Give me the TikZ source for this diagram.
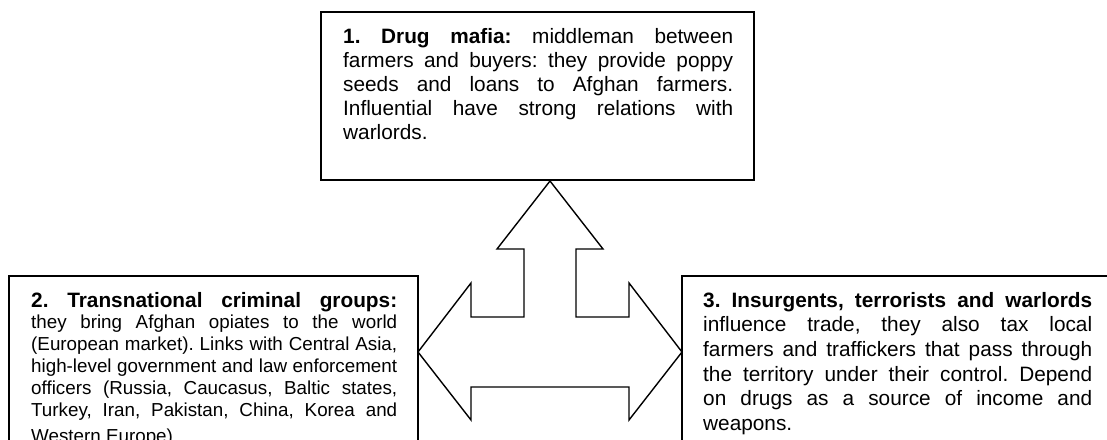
\documentclass[tikz,border=0pt]{standalone}
\usepackage{fontspec}
\setmainfont{Liberation Sans}
\tikzset{
  frame/.style={draw=black, line width=1.8pt, fill=white},
  bigarrow/.style={draw=black, line width=1.4pt, line join=miter, fill=white},
  bodytext/.style={inner sep=0pt, anchor=base west, align=left},
}
\newcommand{\jline}[2]{\makebox[#1][s]{#2}}
\newcommand{\natspace}{\frenchspacing\spaceskip=0pt\xspaceskip=0pt\relax}
\begin{document}
\begin{tikzpicture}[x=1pt,y=-1pt]
\useasboundingbox (0,0) rectangle (1107,439);
\fill[white] (0,0) rectangle (1107,439);
\clip (0,0) rectangle (1107,439);
% frames
\draw[frame] (321,12) rectangle (754,180);
\draw[frame] (9,276) rectangle (418,470);
\draw[frame] (682,276) rectangle (1130,470);
% text
\node[bodytext, text width=392pt, font=\fontsize{20.8}{24}\selectfont] (t1) at (343,43) {\natspace
\jline{390pt}{\textbf{1.\ Drug mafia:} middleman between}\\
\jline{390pt}{farmers and buyers: they provide poppy}\\
\jline{390pt}{seeds and loans to Afghan farmers.}\\
\jline{390pt}{Influential have strong relations with}\\
warlords.};
\node[bodytext, text width=368pt, font=\fontsize{18.8}{21.9}\selectfont] (t2) at (31,307) {\natspace
\jline{366pt}{\fontsize{20.8}{21.9}\selectfont\textbf{2.\ Transnational criminal groups:}}\\
\jline{366pt}{they bring Afghan opiates to the world}\\
\jline{366pt}{(European market). Links with Central Asia,}\\
\jline{366pt}{high-level government and law enforcement}\\
\jline{366pt}{officers (Russia, Caucasus, Baltic states,}\\
\jline{366pt}{Turkey, Iran, Pakistan, China, Korea and}\\[4.5pt]
Western Europe)};
\node[bodytext, text width=391pt, font=\fontsize{20.8}{24.7}\selectfont] (t3) at (703,307) {\natspace
\jline{389pt}{\textbf{3.\ Insurgents, terrorists and warlords}}\\
\jline{389pt}{influence trade, they also tax local}\\
\jline{389pt}{farmers and traffickers that pass through}\\
\jline{389pt}{the territory under their control. Depend}\\
\jline{389pt}{on drugs as a source of income and}\\
weapons.};
% three-way arrow
\draw[bigarrow] (550,181) -- (603,249) -- (576,249) -- (576,317) -- (629,317)
  -- (629,283) -- (682,352) -- (629,420) -- (629,387) -- (471,387) -- (471,420)
  -- (418,352) -- (471,283) -- (471,317) -- (524,317) -- (524,249) -- (497,249) -- cycle;
\end{tikzpicture}
\end{document}
